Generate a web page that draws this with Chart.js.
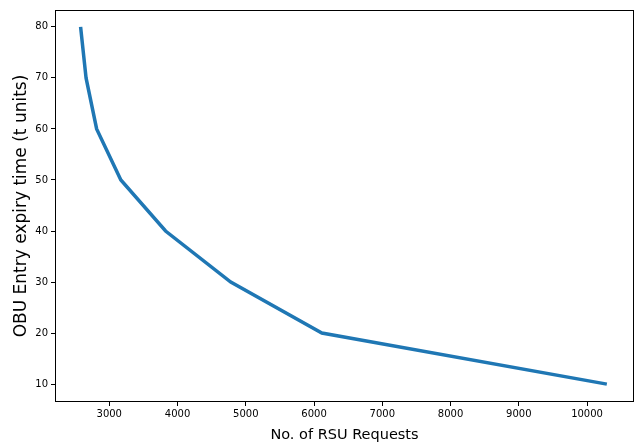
<!DOCTYPE html>
<html>
<head>
<meta charset="utf-8">
<script src="https://cdn.jsdelivr.net/npm/chart.js@4"></script>
<style>
  body { margin: 0; background: #fff; }
</style>
</head>
<body>
<canvas id="myChart" width="635" height="444"></canvas>
<script>
  // values
  const requests = [2580, 2660, 2815, 3170, 3825, 4780, 6115, 10290];
  const expiry = [80, 70, 60, 50, 40, 30, 20, 10];
  const xTicks = [3000, 4000, 5000, 6000, 7000, 8000, 9000, 10000];
  const yTicks = [10, 20, 30, 40, 50, 60, 70, 80];

  const points = requests.map((x, i) => ({ x: x, y: expiry[i] }));

  // black box round the plot area, like matplotlib
  const frame = {
    id: "frame",
    afterDraw(chart) {
      const a = chart.chartArea;
      const ctx = chart.ctx;
      ctx.save();
      ctx.strokeStyle = "#000";
      ctx.lineWidth = 1;
      ctx.strokeRect(a.left + 0.5, a.top + 0.5, a.right - a.left - 1, a.bottom - a.top - 1);
      ctx.restore();
    },
  };

  const tickFont = { family: "DejaVu Sans", size: 10 };

  var ctx = document.getElementById("myChart").getContext("2d");
  var chart = new Chart(ctx, {
    type: "line",
    data: {
      datasets: [
        {
          data: points,
          borderColor: "#1f77b4",
          borderWidth: 3.5,
          pointRadius: 0,
          tension: 0,
          fill: false,
        },
      ],
    },
    options: {
      responsive: false,
      animation: false,
      layout: { padding: { top: 10, right: 1, left: 0, bottom: 0 } },
      plugins: {
        legend: { display: false },
        tooltip: { enabled: false },
      },
      scales: {
        x: {
          type: "linear",
          min: 2205,
          max: 10688,
          afterBuildTicks: (s) => { s.ticks = xTicks.map((v) => ({ value: v })); },
          afterFit: (s) => { s.height = 42; },
          grid: { drawOnChartArea: false, drawTicks: true, tickLength: 4, color: "#000" },
          border: { display: false },
          ticks: { color: "#000", font: tickFont, padding: 2, maxRotation: 0,
                   callback: (v) => String(v) },
          title: { display: true, text: "No. of RSU Requests", color: "#000",
                   font: { family: "DejaVu Sans", size: 14.5 },
                   padding: { top: 2, bottom: 0 } },
        },
        y: {
          type: "linear",
          min: 6.5,
          max: 83.3,
          afterBuildTicks: (s) => { s.ticks = yTicks.map((v) => ({ value: v })); },
          afterFit: (s) => { s.width = 55; },
          grid: { drawOnChartArea: false, drawTicks: true, tickLength: 4, color: "#000" },
          border: { display: false },
          ticks: { color: "#000", font: tickFont, padding: 3 },
          title: { display: true, text: "OBU Entry expiry time (t units)", color: "#000",
                   font: { family: "DejaVu Sans", size: 17 },
                   padding: { top: 11, bottom: 0 } },
        },
      },
    },
    plugins: [frame],
  });
</script>
</body>
</html>
